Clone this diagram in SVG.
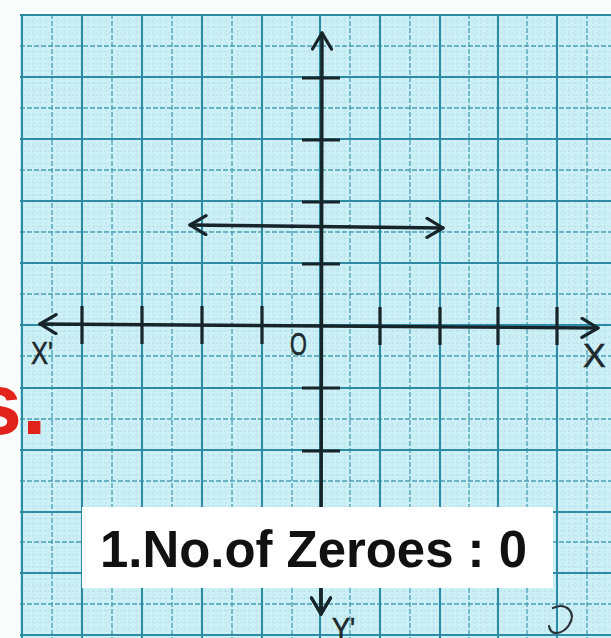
<svg xmlns="http://www.w3.org/2000/svg" width="611" height="638" viewBox="0 0 611 638">
<style>
.paper{fill:#cdf0f7}
.fine{stroke:#a6d6e1;stroke-width:0.6;stroke-dasharray:2 2}
.half{stroke:#4a9fb3;stroke-width:1.3;stroke-dasharray:5 2}
.major{stroke:#2d8ca4;stroke-width:2.1}
.axis{stroke:#17242a;stroke-width:3.4;fill:none;stroke-linecap:round}
.tick{stroke:#17242a;stroke-width:3.2}
.lbl{font-family:"Liberation Sans",Arial,sans-serif;fill:#1e2a2e;stroke:#1e2a2e;stroke-width:0.6}
</style>
<defs>
<marker id="arr" viewBox="-18 -11 20 22" refX="0" refY="0" markerWidth="20" markerHeight="22" markerUnits="userSpaceOnUse" orient="auto-start-reverse">
<path d="M-16,-9.5 L0,0 L-16,9.5" fill="none" stroke="#17242a" stroke-width="3.2" stroke-linecap="round" stroke-linejoin="round"/>
</marker>
</defs>
<rect width="611" height="638" fill="#fbfcfc"/>
<g id="paper">
<rect class="paper" x="20" y="14" width="591" height="624"/>
<g id="fine-grid">
<path class="fine" d="M28,14V638M34,14V638M40,14V638M46,14V638M58,14V638M64,14V638M70,14V638M76,14V638M88,14V638M94,14V638M100,14V638M106,14V638M118,14V638M124,14V638M130,14V638M136,14V638M148,14V638M154,14V638M160,14V638M166,14V638M178,14V638M184,14V638M190,14V638M196,14V638M208,14V638M214,14V638M220,14V638M226,14V638M238,14V638M244,14V638M250,14V638M256,14V638M268,14V638M274,14V638M280,14V638M286,14V638M298,14V638M304,14V638M310,14V638M316,14V638M326,14V638M332,14V638M338,14V638M344,14V638M356,14V638M362,14V638M368,14V638M374,14V638M386,14V638M392,14V638M398,14V638M404,14V638M416,14V638M422,14V638M428,14V638M434,14V638M446,14V638M452,14V638M458,14V638M464,14V638M475,14V638M481,14V638M487,14V638M493,14V638M504,14V638M510,14V638M516,14V638M522,14V638M533,14V638M539,14V638M545,14V638M551,14V638M563,14V638M569,14V638M575,14V638M581,14V638M593,14V638M599,14V638M605,14V638"/>
<path class="fine" d="M20,21H611M20,27H611M20,33H611M20,40H611M20,52H611M20,58H611M20,64H611M20,71H611M20,83H611M20,89H611M20,95H611M20,102H611M20,114H611M20,120H611M20,126H611M20,133H611M20,145H611M20,151H611M20,157H611M20,164H611M20,176H611M20,182H611M20,188H611M20,195H611M20,207H611M20,213H611M20,219H611M20,226H611M20,238H611M20,244H611M20,250H611M20,257H611M20,269H611M20,275H611M20,281H611M20,288H611M20,300H611M20,306H611M20,312H611M20,319H611M20,331H611M20,337H611M20,343H611M20,350H611M20,362H611M20,368H611M20,374H611M20,381H611M20,394H611M20,400H611M20,406H611M20,413H611M20,425H611M20,431H611M20,437H611M20,444H611M20,456H611M20,462H611M20,468H611M20,475H611M20,487H611M20,493H611M20,499H611M20,506H611M20,518H611M20,524H611M20,530H611M20,536H611M20,548H611M20,554H611M20,560H611M20,567H611M20,579H611M20,585H611M20,591H611M20,598H611M20,610H611M20,616H611M20,622H611M20,629H611"/>
</g>
<g id="half-grid">
<path class="half" d="M52,14V638M112,14V638M172,14V638M232,14V638M292,14V638M350,14V638M410,14V638M469,14V638M527,14V638M587,14V638"/>
<path class="half" d="M20,46H611M20,108H611M20,170H611M20,232H611M20,294H611M20,356H611M20,419H611M20,481H611M20,542H611M20,604H611"/>
</g>
<g id="major-grid">
<path class="major" d="M22,14V638M82,14V638M142,14V638M202,14V638M262,14V638M320,14V638M380,14V638M440,14V638M498,14V638M557,14V638"/>
<path class="major" d="M20,15H611M20,77H611M20,139H611M20,201H611M20,263H611M20,325H611M20,388H611M20,450H611M20,512H611M20,573H611M20,635H611"/>
</g>
</g>
<g id="y-axis">
<line class="axis" x1="321" y1="614" x2="322" y2="33" marker-start="url(#arr)" marker-end="url(#arr)"/>
<path class="tick" d="M302,78H340M302,140H340M302,202H340M302,264H340M302,388H340M302,451H340"/>
</g>
<g id="x-axis">
<line class="axis" x1="40" y1="324" x2="598" y2="328" marker-start="url(#arr)" marker-end="url(#arr)"/>
<path class="tick" d="M82,306V344M142,306V344M202,306V344M262,306V344M380,307V345M440,307V345M498,307V345M557,307V345"/>
</g>
<g id="connectors">
<line class="axis" x1="190" y1="225" x2="443" y2="228" marker-start="url(#arr)" marker-end="url(#arr)"/>
</g>
<g id="labels">
<text class="lbl" x="31" y="364" font-size="32" transform="translate(31 364) scale(0.8 1) translate(-31 -364)">X'</text>
<text class="lbl" x="290" y="355" font-size="31" transform="translate(290 355) scale(0.7 1) translate(-290 -355)">O</text>
<text class="lbl" x="583" y="367" font-size="34">X</text>
<text class="lbl" x="332" y="640" font-size="32" transform="translate(332 640) scale(0.85 1) translate(-332 -640)">Y'</text>
</g>
<g id="note">
<rect x="82" y="507" width="471" height="81" fill="#ffffff"/>
<text x="100" y="567" font-family="'Liberation Sans',Arial,sans-serif" font-weight="bold" font-size="52" fill="#111" textLength="427" lengthAdjust="spacingAndGlyphs">1.No.of Zeroes : 0</text>
</g>
<g id="heading-fragment">
<text x="-27" y="434" font-family="'Liberation Sans',Arial,sans-serif" font-weight="bold" font-size="88" fill="#e2231c">s.</text>
</g>
<g id="pen-mark">
<path d="M553,608 C566,602 577,612 569,625 C563,634 551,637 549,626" fill="none" stroke="#2a3338" stroke-width="2.2" stroke-linecap="round"/>
</g>
<g id="y-axis-bottom">
<line class="axis" x1="321" y1="590" x2="321" y2="614" marker-end="url(#arr)"/>
</g>
</svg>
